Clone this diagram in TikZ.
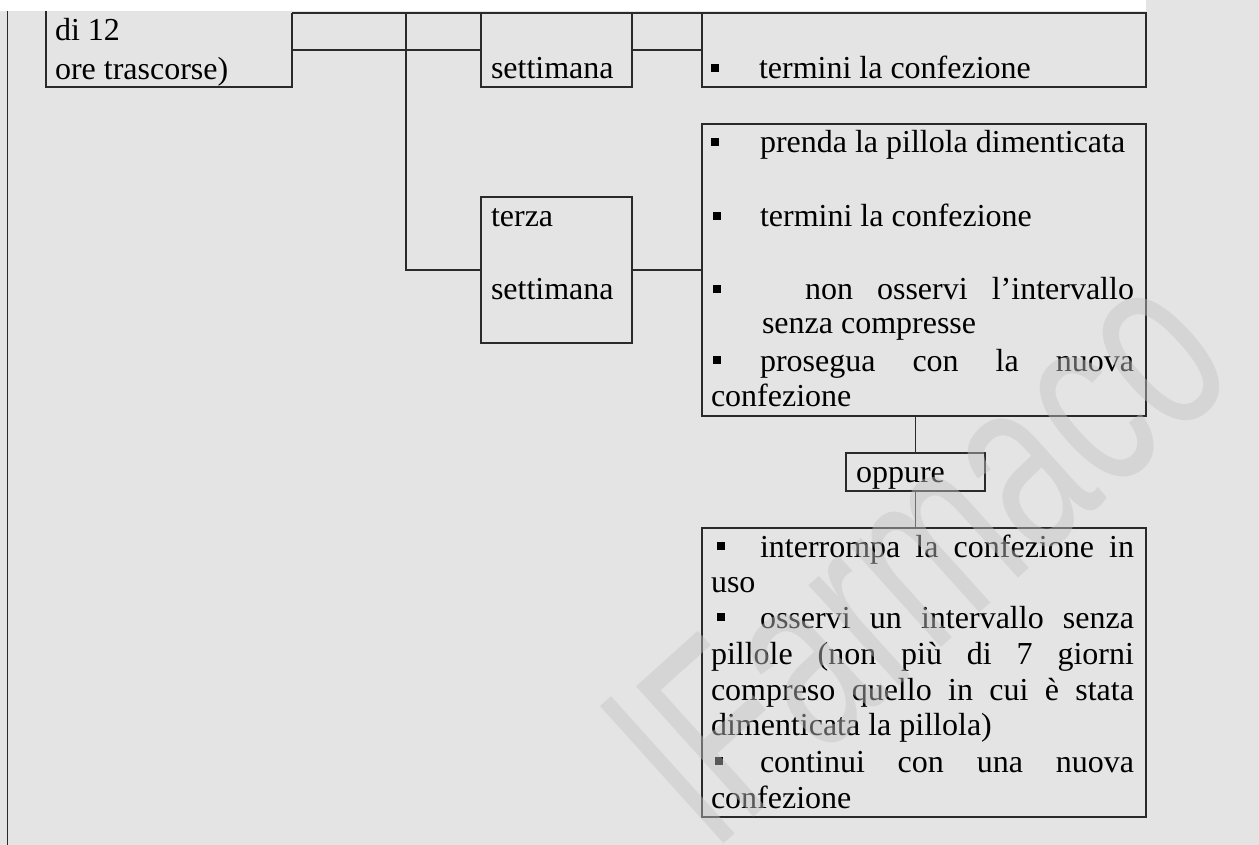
\documentclass[tikz,border=0pt]{standalone}
\usepackage{fontspec}
\setmainfont{Liberation Serif}
\newfontfamily\wmfont{Liberation Sans}
\definecolor{bg}{HTML}{E4E4E4}
\definecolor{ln}{HTML}{2A2A2A}
\definecolor{wm}{HTML}{C4C4C4}
\newcommand{\blt}{\rule[7pt]{8pt}{8pt}}
\begin{document}
\begin{tikzpicture}[x=1pt,y=-1pt,
  frame/.style={draw=ln, line width=1.3pt, inner sep=0pt, outer sep=0pt, anchor=north west},
  hidden/.style={draw=none, inner sep=0pt, outer sep=0pt, anchor=north west},
  txt/.style={inner sep=0pt, outer sep=0pt, anchor=base west, font=\fontsize{32}{35.5}\selectfont},
  conn/.style={draw=ln, line width=1.3pt},
]
\useasboundingbox (0,0) rectangle (1259,845);
\fill[bg] (0,0) rectangle (1259,845);
\fill[white] (0,0) rectangle (1146,11);
% page rule at left
\coordinate (pt) at (7.5,11);
\coordinate (pb) at (7.5,845);
\draw[conn] (pt) -- (pb);

% boxes
\node[hidden, minimum width=246pt, minimum height=74pt] (b1) at (46,13) {};
\draw[conn] ([yshift=2pt]b1.north west) -- (b1.south west) -- (b1.south east) -- (b1.north east);
\node[frame, minimum width=151pt, minimum height=74pt] (s1) at (481,13) {};
\node[frame, minimum width=444pt, minimum height=74pt] (t1) at (702,13) {};
\node[frame, minimum width=151pt, minimum height=146pt] (s3) at (481,197) {};
\node[frame, minimum width=444pt, minimum height=292pt] (m) at (702,124) {};
\node[frame, minimum width=139pt, minimum height=38pt] (o) at (846,453) {};
\node[frame, minimum width=444pt, minimum height=289pt] (bb) at (702,528) {};

% connectors
\coordinate (j) at (406,13);
\draw[conn] (b1.north east) -- (s1.north west);
\draw[conn] (b1.east) -- (s1.west);
\draw[conn] (s1.north east) -- (t1.north west);
\draw[conn] (s1.east) -- (t1.west);
\draw[conn] (j) |- (s3.west);
\draw[conn] (s3.east) -- (m.west);
\draw[conn] (o.north) -- (o.north |- m.south);
\draw[conn] (o.south) -- (o.south |- bb.north);

% texts
\node[txt] (b1a) at (55,41) {di 12};
\node[txt] (b1b) at (55,80) {ore trascorse)};
\node[txt] (s1a) at (491,79) {settimana};
\node[txt] (t1a) at (711,79) {\blt\hspace{40pt}termini la confezione};
\node[txt] (s3a) at (491,227) {terza};
\node[txt] (s3b) at (491,300) {settimana};

\node[txt] (m1) at (711,153) {\blt\hspace{41pt}prenda la pillola dimenticata};
\node[txt] (m2) at (713,227) {\blt\hspace{39pt}termini la confezione};
\node[txt] (m3) at (713,300) {\blt\hspace{84pt}\makebox[329pt][s]{non osservi l’intervallo}};
\node[txt] (m4) at (762,334) {senza compresse};
\node[txt] (m5) at (713,371) {\blt\hspace{39pt}\makebox[374pt][s]{prosegua con la nuova}};
\node[txt] (m6) at (711,406) {confezione};

\node[txt] (o1) at (856,482) {oppure};

\node[txt] (n1) at (717,557) {\blt\hspace{35pt}\makebox[374pt][s]{interrompa la confezione in}};
\node[txt] (n2) at (711,592) {uso};
\node[txt] (n3) at (717,628) {\blt\hspace{35pt}\makebox[374pt][s]{osservi un intervallo senza}};
\node[txt] (n4) at (711,664) {\makebox[423pt][s]{pillole (non più di 7 giorni}};
\node[txt] (n5) at (711,700) {\makebox[423pt][s]{compreso quello in cui è stata}};
\node[txt] (n6) at (711,735) {dimenticata la pillola)};
\node[txt] (n7) at (715,772) {\blt\hspace{37pt}\makebox[374pt][s]{continui con una nuova}};
\node[txt] (n8) at (711,808) {confezione};

% watermark
\node[inner sep=0pt, anchor=base west, rotate=42, yscale=1.5, text=wm, opacity=.45,
      font=\wmfont\fontsize{170}{170}\selectfont] (wmk) at (715,852) {lFarmaco};
\end{tikzpicture}
\end{document}
